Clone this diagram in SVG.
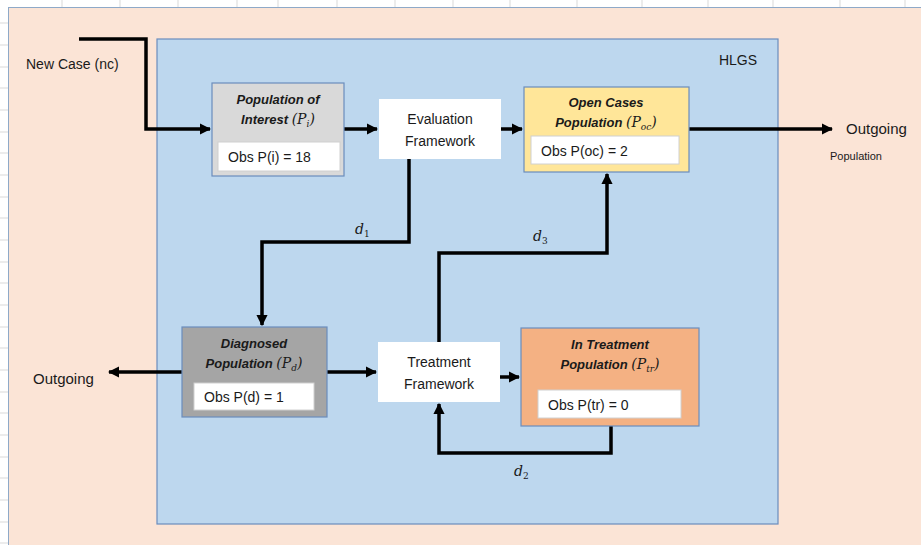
<svg xmlns="http://www.w3.org/2000/svg" width="921" height="545" viewBox="0 0 921 545">
  <style>
    .lbl { font-family: "Liberation Sans", Arial, sans-serif; font-size: 14px; fill: #1a1a1a; }
    .big { font-size: 15px; }
    .small { font-size: 11px; }
    .ttl { font-family: "Liberation Sans", Arial, sans-serif; font-size: 13px; font-weight: bold; font-style: italic; fill: #1a1a1a; text-anchor: middle; }
    .m { font-family: "DejaVu Serif", "Liberation Serif", serif; font-style: italic; font-weight: normal; font-size: 14px; }
    .sub { font-family: "DejaVu Serif", "Liberation Serif", serif; font-style: italic; font-weight: normal; font-size: 9px; }
    .dlbl { font-family: "DejaVu Serif", "Liberation Serif", serif; font-style: italic; font-size: 14px; fill: #1a1a1a; }
    .dsub { font-style: normal; font-size: 9px; }
    .node { stroke: #6a8dbd; stroke-width: 1.2; }
    .obs { fill: #ffffff; stroke: #d0d0d0; stroke-width: 1; }
    .wire { fill: none; stroke: #000000; stroke-width: 3.5; }
    .grid { stroke: #d9d9d9; stroke-width: 1; }
  </style>
  <defs>
    <marker id="arrow" viewBox="0 0 10 10" refX="9" refY="5" markerWidth="3.2" markerHeight="3.2" orient="auto" markerUnits="strokeWidth">
      <path d="M0,0 L10,5 L0,10 z" fill="#000000"/>
    </marker>
  </defs>

  <!-- sheet grid -->
  <rect x="0" y="0" width="921" height="545" fill="#ffffff"/>
  <g class="grid">
    <line x1="62" y1="0" x2="62" y2="7"/><line x1="120" y1="0" x2="120" y2="7"/>
    <line x1="178" y1="0" x2="178" y2="7"/><line x1="237" y1="0" x2="237" y2="7"/>
    <line x1="278" y1="0" x2="278" y2="7"/><line x1="337" y1="0" x2="337" y2="7"/>
    <line x1="395" y1="0" x2="395" y2="7"/><line x1="453" y1="0" x2="453" y2="7"/>
    <line x1="510" y1="0" x2="510" y2="7"/><line x1="577" y1="0" x2="577" y2="7"/>
    <line x1="642" y1="0" x2="642" y2="7"/><line x1="708" y1="0" x2="708" y2="7"/>
    <line x1="773" y1="0" x2="773" y2="7"/><line x1="840" y1="0" x2="840" y2="7"/>
    <line x1="905" y1="0" x2="905" y2="7"/>
    <line x1="0" y1="23" x2="8" y2="23"/><line x1="0" y1="45" x2="8" y2="45"/>
    <line x1="0" y1="67" x2="8" y2="67"/><line x1="0" y1="88" x2="8" y2="88"/>
    <line x1="0" y1="110" x2="8" y2="110"/><line x1="0" y1="132" x2="8" y2="132"/>
    <line x1="0" y1="153" x2="8" y2="153"/><line x1="0" y1="175" x2="8" y2="175"/>
    <line x1="0" y1="197" x2="8" y2="197"/><line x1="0" y1="218" x2="8" y2="218"/>
    <line x1="0" y1="240" x2="8" y2="240"/><line x1="0" y1="262" x2="8" y2="262"/>
    <line x1="0" y1="283" x2="8" y2="283"/><line x1="0" y1="305" x2="8" y2="305"/>
    <line x1="0" y1="327" x2="8" y2="327"/><line x1="0" y1="348" x2="8" y2="348"/>
    <line x1="0" y1="370" x2="8" y2="370"/><line x1="0" y1="392" x2="8" y2="392"/>
    <line x1="0" y1="413" x2="8" y2="413"/><line x1="0" y1="435" x2="8" y2="435"/>
    <line x1="0" y1="457" x2="8" y2="457"/><line x1="0" y1="478" x2="8" y2="478"/>
    <line x1="0" y1="500" x2="8" y2="500"/><line x1="0" y1="522" x2="8" y2="522"/>
    <line x1="0" y1="543" x2="8" y2="543"/>
  </g>

  <!-- environment and HLGS system -->
  <rect id="environment" x="8.5" y="7.5" width="920" height="545" fill="#fbe4d6" stroke="#8ea9c8" stroke-width="1"/>
  <g id="hlgs">
    <rect x="157" y="39" width="621" height="485" fill="#bdd7ee" stroke="#6a8dbd" stroke-width="1.2"/>
    <text class="lbl" x="738" y="65" text-anchor="middle">HLGS</text>
  </g>

  <!-- outside labels -->
  <text class="lbl" x="26" y="69">New Case (nc)</text>
  <text class="lbl big" x="846" y="134">Outgoing</text>
  <text class="lbl small" x="830" y="160">Population</text>
  <text class="lbl big" x="33" y="384">Outgoing</text>

  <!-- connectors -->
  <g id="connectors">
    <polyline class="wire" points="79,39 146,39 146,129 210,129" marker-end="url(#arrow)"/>
    <line class="wire" x1="344" y1="129" x2="377" y2="129" marker-end="url(#arrow)"/>
    <line class="wire" x1="501" y1="129" x2="522" y2="129" marker-end="url(#arrow)"/>
    <line class="wire" x1="689" y1="129" x2="832" y2="129" marker-end="url(#arrow)"/>
    <polyline class="wire" points="409,159 409,242 262,242 262,325" marker-end="url(#arrow)"/>
    <line class="wire" x1="182" y1="372" x2="109" y2="372" marker-end="url(#arrow)"/>
    <line class="wire" x1="327" y1="372" x2="376" y2="372" marker-end="url(#arrow)"/>
    <line class="wire" x1="500" y1="377" x2="519" y2="377" marker-end="url(#arrow)"/>
    <polyline class="wire" points="439,342 439,253 607,253 607,174" marker-end="url(#arrow)"/>
    <polyline class="wire" points="611,426 611,453 439,453 439,404" marker-end="url(#arrow)"/>
    <text class="dlbl" x="355" y="234">d<tspan class="dsub" dy="3">1</tspan></text>
    <text class="dlbl" x="533" y="241">d<tspan class="dsub" dy="3">3</tspan></text>
    <text class="dlbl" x="514" y="476">d<tspan class="dsub" dy="3">2</tspan></text>
  </g>

  <!-- nodes -->
  <g id="population-of-interest">
    <rect class="node" x="212" y="83" width="132" height="93" fill="#d9d9d9"/>
    <text class="ttl" x="278" y="104">Population of</text>
    <text class="ttl" x="278" y="124">Interest <tspan class="m">(P</tspan><tspan class="sub" dy="3">i</tspan><tspan class="m" dy="-3">)</tspan></text>
    <rect class="obs" x="218" y="142" width="122" height="29"/>
    <text class="lbl" x="228" y="162">Obs P(i) = 18</text>
  </g>

  <g id="evaluation-framework">
    <rect x="379" y="99" width="122" height="60" fill="#ffffff"/>
    <text class="lbl" x="440" y="124" text-anchor="middle">Evaluation</text>
    <text class="lbl" x="440" y="146" text-anchor="middle">Framework</text>
  </g>

  <g id="open-cases">
    <rect class="node" x="524" y="87" width="165" height="85" fill="#ffe699"/>
    <text class="ttl" x="606" y="107">Open Cases</text>
    <text class="ttl" x="606" y="127">Population <tspan class="m">(P</tspan><tspan class="sub" dy="3">oc</tspan><tspan class="m" dy="-3">)</tspan></text>
    <rect class="obs" x="531" y="136" width="148" height="28"/>
    <text class="lbl" x="541" y="156">Obs P(oc) = 2</text>
  </g>

  <g id="diagnosed">
    <rect class="node" x="182" y="327" width="145" height="90" fill="#a5a5a5"/>
    <text class="ttl" x="254" y="348">Diagnosed</text>
    <text class="ttl" x="254" y="368">Population <tspan class="m">(P</tspan><tspan class="sub" dy="3">d</tspan><tspan class="m" dy="-3">)</tspan></text>
    <rect class="obs" x="194" y="383" width="120" height="27"/>
    <text class="lbl" x="204" y="402">Obs P(d) = 1</text>
  </g>

  <g id="treatment-framework">
    <rect x="378" y="342" width="122" height="60" fill="#ffffff"/>
    <text class="lbl" x="439" y="367" text-anchor="middle">Treatment</text>
    <text class="lbl" x="439" y="389" text-anchor="middle">Framework</text>
  </g>

  <g id="in-treatment">
    <rect class="node" x="521" y="328" width="178" height="98" fill="#f4b183"/>
    <text class="ttl" x="610" y="349">In Treatment</text>
    <text class="ttl" x="610" y="369">Population <tspan class="m">(P</tspan><tspan class="sub" dy="3">tr</tspan><tspan class="m" dy="-3">)</tspan></text>
    <rect class="obs" x="538" y="390" width="143" height="28"/>
    <text class="lbl" x="548" y="410">Obs P(tr) = 0</text>
  </g>
</svg>
